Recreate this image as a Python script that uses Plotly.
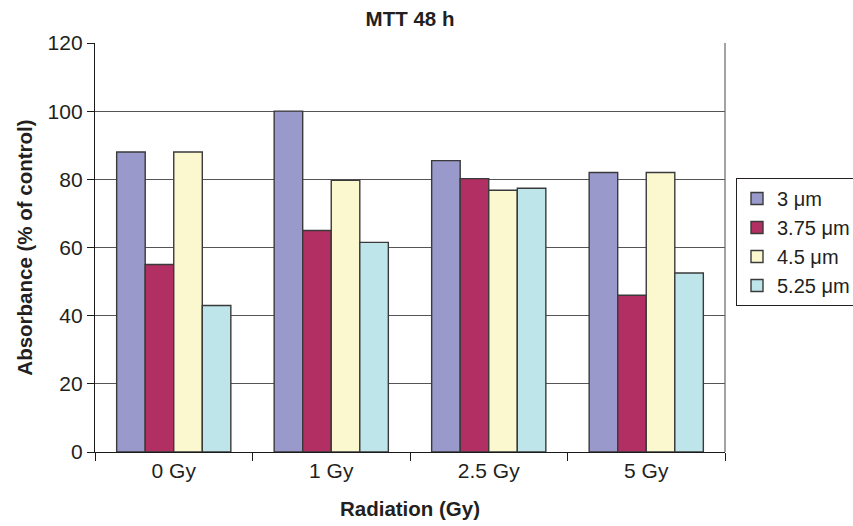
import plotly.graph_objects as go

categories = ["0 Gy", "1 Gy", "2.5 Gy", "5 Gy"]
series_names = ["3 μm", "3.75 μm", "4.5 μm", "5.25 μm"]
vals_3 = [88, 100, 85.5, 82]
vals_375 = [55, 65, 80.2, 46]
vals_45 = [88, 79.7, 76.8, 82]
vals_525 = [43, 61.5, 77.4, 52.5]
colors = ["#9999cc", "#b22f64", "#fbf8d0", "#bde5ea"]
y_ticks = [0, 20, 40, 60, 80, 100, 120]

FONT = "Liberation Sans, Arial, sans-serif"
TXT = "#231f20"

fig = go.Figure()
for name, vals, col in zip(series_names, [vals_3, vals_375, vals_45, vals_525], colors):
    fig.add_trace(go.Bar(
        x=categories, y=vals, name=name,
        marker=dict(color=col, line=dict(color="#3a3a3a", width=1.4)),
    ))

fig.update_layout(
    width=853, height=526,
    margin=dict(l=95, r=128, t=43, b=74, autoexpand=False),
    paper_bgcolor="white", plot_bgcolor="white",
    barmode="group", bargap=0.275, bargroupgap=0,
    font=dict(family=FONT, size=21, color=TXT),
    title=dict(text="<b>MTT 48 h</b>", x=0.5, xref="paper", xanchor="center",
               y=1 - 19 / 526, yref="container", yanchor="middle",
               font=dict(family=FONT, size=20.5, color=TXT)),
    legend=dict(x=(736 - 95) / 630, xanchor="left", y=(452 - 178) / 409, yanchor="top",
                bordercolor=TXT, borderwidth=1, bgcolor="white",
                font=dict(family=FONT, size=20, color=TXT)),
    xaxis=dict(
        title=dict(text="<b>Radiation (Gy)</b>", standoff=20,
                   font=dict(family=FONT, size=20.5, color=TXT)),
        showline=True, linecolor="#1a1a1a", linewidth=1.4,
        ticks="outside", tickson="boundaries", ticklen=8, tickcolor="#1a1a1a", tickwidth=1.4,
        showgrid=False,
    ),
    yaxis=dict(
        title=dict(text="<b>Absorbance (% of control)</b>", standoff=9,
                   font=dict(family=FONT, size=20.5, color=TXT)),
        range=[0, 120], tickvals=y_ticks,
        showline=True, linecolor="#1a1a1a", linewidth=1.4,
        ticks="outside", ticklen=7, tickcolor="#1a1a1a", tickwidth=1.4,
        showgrid=True, gridcolor="#555555", gridwidth=1.2,
        zeroline=False,
    ),
)
fig.add_shape(type="line", xref="paper", yref="paper", x0=1, x1=1, y0=0, y1=1,
              line=dict(color="#666666", width=1.2))

fig.write_html("out.html")
